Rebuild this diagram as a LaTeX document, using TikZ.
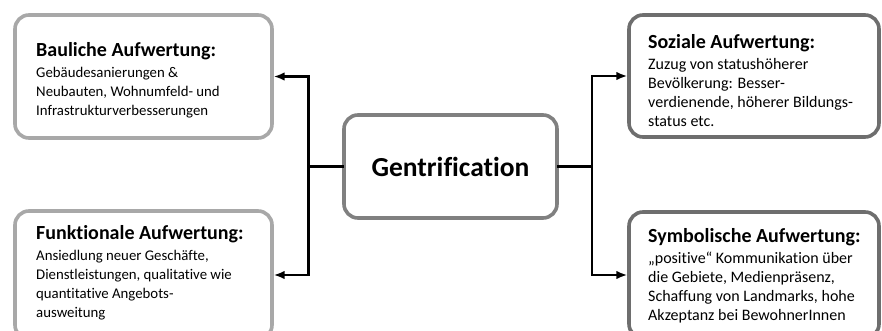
\documentclass[tikz,border=0pt]{standalone}
\usepackage{fontspec}
\setmainfont{Carlito}[Ligatures=NoCommon]
\usetikzlibrary{arrows.meta}
\definecolor{lightframe}{HTML}{A8A8A8}
\definecolor{midframe}{HTML}{808080}
\definecolor{darkframe}{HTML}{6E6E6E}
\begin{document}
\begin{tikzpicture}[x=1pt,y=-1pt,
  box/.style={draw, line width=3.6pt, rounded corners=14pt, fill=white,
    anchor=north west, inner sep=0pt, outer sep=0pt},
  body/.style={anchor=north west, inner sep=0pt, align=left},
  leftbody/.style={body, font=\fontsize{14.8}{19}\selectfont},
  rightbody/.style={body, font=\fontsize{16}{19}\selectfont},
  conn/.style={line width=2.8pt, black},
  arr/.style={conn, shorten >=1.6pt, -{Latex[length=11pt,width=8.5pt]}},
]
\clip (0,0) rectangle (882,331);

% frames
\node[box, draw=lightframe, minimum width=257pt, minimum height=123pt] (baul) at (15,15) {};
\node[box, draw=lightframe, minimum width=257pt, minimum height=128pt] (funk) at (15,211) {};
\node[box, draw=midframe, minimum width=213pt, minimum height=103pt] (gent) at (344,115) {};
\node[box, draw=darkframe, minimum width=250pt, minimum height=122pt] (soz) at (629,15) {};
\node[box, draw=darkframe, minimum width=250pt, minimum height=126pt] (sym) at (629,212) {};

% texts
\node[font=\fontsize{27.5}{30}\selectfont\bfseries] (gtext) at (gent.center) {Gentrification};

\newcommand\heading[1]{{\fontsize{20}{20}\selectfont\bfseries #1}\\[2pt]}
\node[leftbody] (bautext) at (36,42) {\heading{Bauliche Aufwertung:}Gebäudesanierungen \&\\Neubauten, Wohnumfeld- und\\Infrastrukturverbesserungen};
\node[leftbody] (funktext) at (36,225) {\heading{Funktionale Aufwertung:}Ansiedlung neuer Geschäfte,\\Dienstleistungen, qualitative wie\\quantitative Angebots-\\ausweitung};
\node[rightbody] (soztext) at (648,34) {\heading{Soziale Aufwertung:}Zuzug von statushöherer\\Bevölkerung: Besser-\\verdienende, höherer Bildungs-\\status etc.};
\node[rightbody] (symtext) at (648,228) {\heading{Symbolische Aufwertung:}„positive“ Kommunikation über\\die Gebiete, Medienpräsenz,\\Schaffung von Landmarks, hohe\\Akzeptanz bei BewohnerInnen};

% junctions beside the central frame
\coordinate (lj) at ([xshift=-35.5pt]gent.west);
\coordinate (rj) at ([xshift=35pt]gent.east);

% connectors
\draw[conn] (gent.west) -- (lj);
\draw[conn] (gent.east) -- (rj);
\draw[arr] (lj) |- (baul.east);
\draw[arr] (lj) |- (funk.east);
\draw[arr] (rj) |- (soz.west);
\draw[arr] (rj) |- (sym.west);
\end{tikzpicture}
\end{document}
